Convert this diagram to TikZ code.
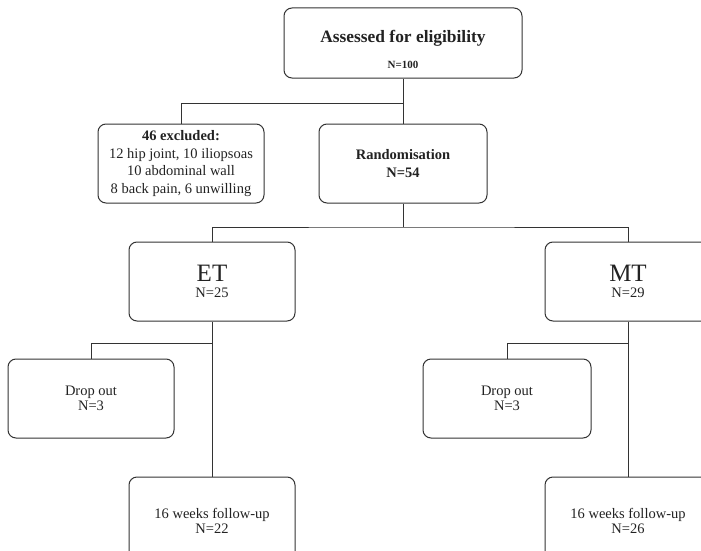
\documentclass[tikz,border=0pt]{standalone}
\usepackage{fontspec}
\setmainfont{Liberation Serif}
\definecolor{linegray}{HTML}{333333}
\definecolor{inkgray}{HTML}{222222}
\begin{document}
\begin{tikzpicture}[
    x=1pt, y=-1pt,
    font=\fontsize{14.5}{17.5}\selectfont,
    box/.style={draw=linegray, line width=1pt, rounded corners=8pt, text=inkgray,
      align=center, inner sep=0pt, minimum width=166pt, minimum height=79pt},
    link/.style={draw=linegray, line width=1pt},
    caption/.style={anchor=base, text=inkgray, inner sep=0pt}]
  \useasboundingbox (0,0) rectangle (701,551);
  \clip (0,0) rectangle (701,551);
  % screening
  \node[box, minimum width=238pt, minimum height=70pt] (assess) at (403,43) {};
  \node[caption] (assesstitle) at (403,43)
       {\fontsize{17.4}{20}\selectfont\bfseries Assessed for eligibility};
  \node[caption] (assessn) at (403,68) {\fontsize{11}{13}\selectfont\bfseries N=100};
  % excluded and randomised
  \node[box] (excl) at (181,163.5)
       {\textbf{46 excluded:}\\12 hip joint, 10 iliopsoas\\10 abdominal wall\\8 back pain, 6 unwilling};
  \node[box, minimum width=168pt] (rand) at (403,163.5) {\textbf{Randomisation}\\\textbf{N=54}};
  % arms
  \node[box] (et) at (212,281.5) {{\fontsize{25}{25}\selectfont ET}\\[-2pt]N=25};
  \node[box] (mt) at (628,281.5) {{\fontsize{25}{25}\selectfont MT}\\[-2pt]N=29};
  % drop outs
  \node[box] (dropet) at (91,398.5) {Drop out\\[-2pt]N=3};
  \node[box, minimum width=168pt] (dropmt) at (507,398.5) {Drop out\\[-2pt]N=3};
  % follow-up
  \node[box, minimum height=88pt] (followet) at (212,521) {16 weeks follow-up\\[-2pt]N=22};
  \node[box, minimum height=88pt] (followmt) at (628,521) {16 weeks follow-up\\[-2pt]N=26};
  % connectors
  \coordinate (split) at (403,103);
  \coordinate (arms) at (403,227);
  \coordinate (etsplit) at (212,343);
  \coordinate (mtsplit) at (628,343);
  \draw[link] (assess.south) -- (rand.north);
  \draw[link] (excl.north) |- (split);
  \draw[link] (rand.south) -- (arms);
  \draw[link] (et.north) |- (arms) -| (mt.north);
  \draw[link] (et.south) -- (followet.north);
  \draw[link] (dropet.north) |- (etsplit);
  \draw[link] (mt.south) -- (followmt.north);
  \draw[link] (dropmt.north) |- (mtsplit);
\end{tikzpicture}
\end{document}
